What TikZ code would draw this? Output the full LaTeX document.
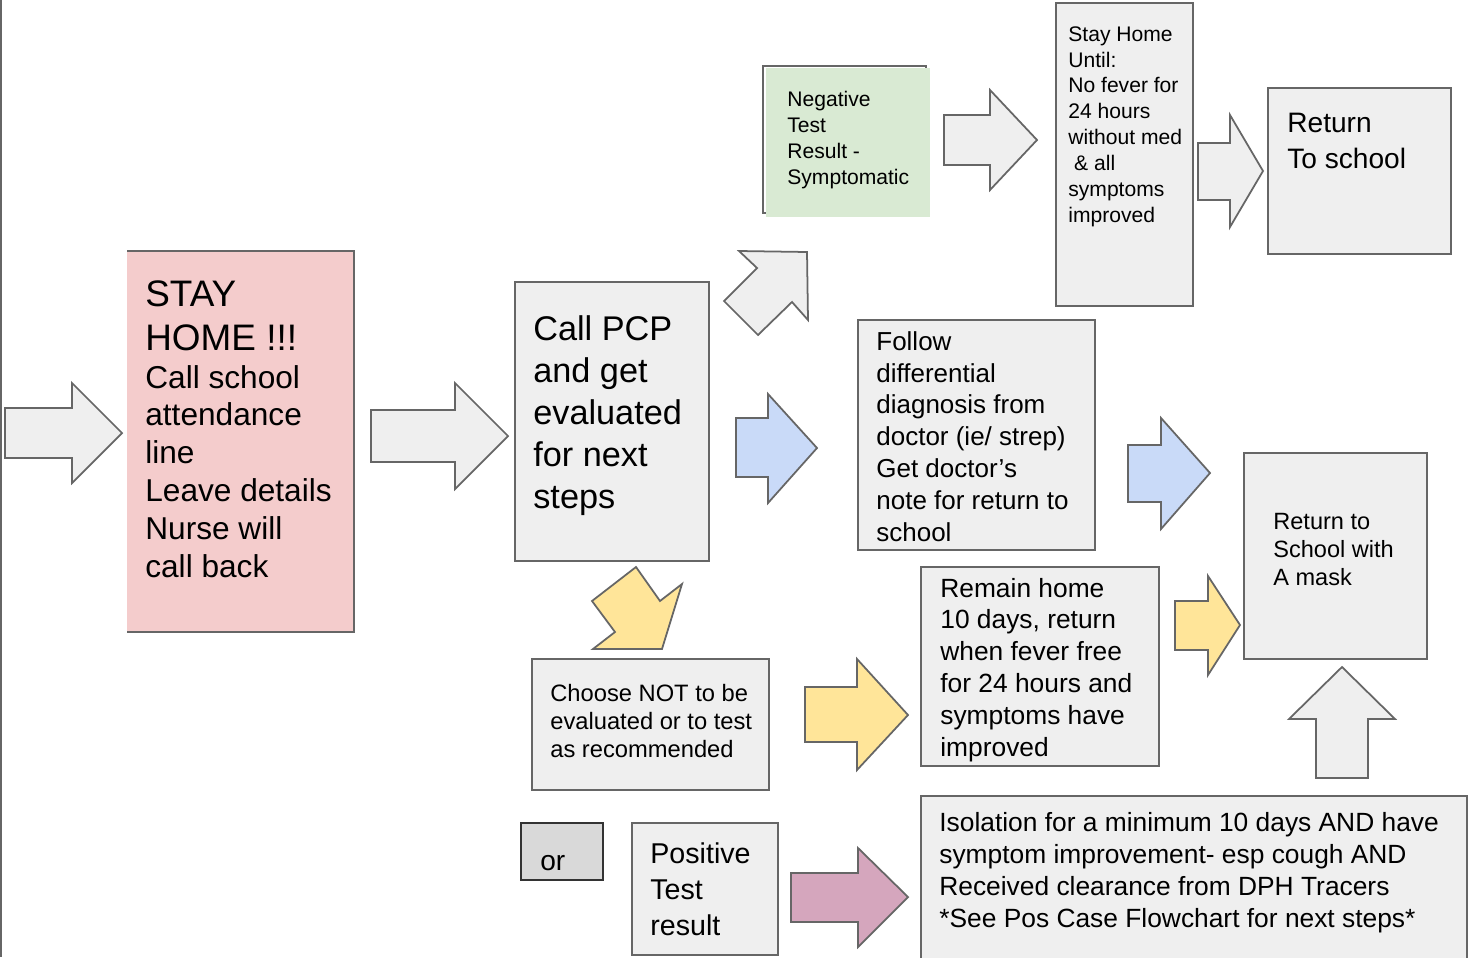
\documentclass[tikz,border=0pt]{standalone}
\usepackage{fontspec}
\setmainfont{Liberation Sans}
\usepackage{tikz}
\usetikzlibrary{positioning}
\definecolor{boxgray}{HTML}{EFEFEF}
\definecolor{edgegray}{HTML}{666666}
\definecolor{stoppink}{HTML}{F4CCCC}
\definecolor{neggreen}{HTML}{D9EAD3}
\definecolor{pcpblue}{HTML}{C9DAF8}
\definecolor{optyellow}{HTML}{FFE599}
\definecolor{posmauve}{HTML}{D5A6BD}
\definecolor{orgray}{HTML}{D9D9D9}
\newcommand{\fsz}[2]{\fontsize{#1}{#2}\selectfont}
\tikzset{
  panel/.style={draw=edgegray, line width=1pt, fill=boxgray, inner sep=0pt, outer sep=0pt, anchor=north west},
  txt/.style={inner sep=0pt, anchor=base west, align=left}, % base = last line
  blk/.style={draw=edgegray, line width=1pt, line join=miter},
}

\begin{document}
\begin{tikzpicture}[x=0.02cm, y=-0.02cm]
\clip (0,0) rectangle (1470,957);
\fill[white] (0,0) rectangle (1470,957);
\draw[edgegray, line width=1.2pt] (1,0) -- (1,957);

% boxes
\node[panel, draw=none, fill=stoppink, minimum width=4.54cm, minimum height=7.62cm] (stay) at (127,251) {};
\draw[edgegray, line width=0.8pt] (stay.north west) -- (stay.north east) -- (stay.south east) -- (stay.south west);
\node[panel, minimum width=3.88cm, minimum height=5.58cm] (pcp) at (515,282) {};
\node[panel, fill=none, minimum width=3.26cm, minimum height=2.94cm] (negedge) at (763,66) {};
\node[panel, draw=none, fill=neggreen, minimum width=3.28cm, minimum height=2.98cm] (neg) at (766,68) {};
\node[panel, minimum width=2.74cm, minimum height=6.06cm] (until) at (1056,3) {};
\node[panel, minimum width=3.66cm, minimum height=3.32cm] (back) at (1268,88) {};
\node[panel, minimum width=4.74cm, minimum height=4.60cm] (follow) at (858,320) {};
\node[panel, minimum width=3.66cm, minimum height=4.12cm] (mask) at (1244,453) {};
\node[panel, minimum width=4.74cm, minimum height=2.62cm] (choose) at (532,659) {};
\node[panel, minimum width=4.76cm, minimum height=3.98cm] (remain) at (921,567) {};
\node[panel, draw=black!80, fill=orgray, minimum width=1.64cm, minimum height=1.14cm] (or) at (521,823) {};
\node[panel, minimum width=2.92cm, minimum height=2.64cm] (pos) at (632,823) {};
\node[panel, minimum width=10.92cm, minimum height=3.50cm] (iso) at (921,796) {};

% block arrows
\draw[blk, fill=boxgray] (5,408) -- (72,408) -- (72,383) -- (122,433) -- (72,483) -- (72,458) -- (5,458) -- cycle;
\draw[blk, fill=boxgray] (371,410) -- (455,410) -- (455,383) -- (508,436) -- (455,489) -- (455,462) -- (371,462) -- cycle;
\draw[blk, fill=boxgray] (739,251) -- (807,252) -- (808,320) -- (792,302) -- (758,335) -- (724,301) -- (757,268) -- cycle;
\draw[blk, fill=pcpblue] (736,418) -- (768,418) -- (768,394) -- (817,448) -- (768,503) -- (768,477) -- (736,477) -- cycle;
\draw[blk, fill=boxgray] (944,115) -- (990,115) -- (990,90) -- (1037,140) -- (990,190) -- (990,165) -- (944,165) -- cycle;
\draw[blk, fill=boxgray] (1198,143) -- (1230,143) -- (1230,115) -- (1263,171) -- (1230,227) -- (1230,200) -- (1198,200) -- cycle;
\draw[blk, fill=pcpblue] (1128,445) -- (1161,445) -- (1161,418) -- (1210,473) -- (1161,529) -- (1161,502) -- (1128,502) -- cycle;
\draw[blk, fill=optyellow] (636,567) -- (660,601) -- (682,584) -- (662,649) -- (593,649) -- (615,632) -- (592,601) -- cycle;
\draw[blk, fill=optyellow] (805,687) -- (857,687) -- (857,659) -- (908,715) -- (857,770) -- (857,742) -- (805,742) -- cycle;
\draw[blk, fill=optyellow] (1175,601) -- (1208,601) -- (1208,576) -- (1240,625) -- (1208,675) -- (1208,650) -- (1175,650) -- cycle;
\draw[blk, fill=boxgray] (1342,667) -- (1395,719) -- (1368,719) -- (1368,778) -- (1316,778) -- (1316,719) -- (1289,719) -- cycle;
\draw[blk, fill=posmauve] (791,873) -- (858,873) -- (858,848) -- (908,897) -- (858,947) -- (858,922) -- (791,922) -- cycle;

% texts, placed at the baseline of their last line
\node[txt, font=\fsz{18}{21.5}] (stayT) at (145,577) {{\fsz{21}{25}STAY}\\[3.5pt]{\fsz{21}{25}HOME !!!}\\Call school\\attendance\\line\\Leave details\\Nurse will\\call back};
\node[txt, font=\fsz{19.5}{23.8}] (pcpT) at (533,508) {Call PCP\\and get\\evaluated\\for next\\steps};
\node[txt, font=\fsz{12}{14.7}] (negT) at (787,184) {Negative\\Test\\Result -\\Symptomatic};
\node[txt, font=\fsz{12}{14.7}] (untilT) at (1068,222) {Stay Home\\Until:\\No fever for\\24 hours\\without med\\\ \& all\\symptoms\\improved};
\node[txt, font=\fsz{16}{20.4}] (backT) at (1287,168) {Return\\To school};
\node[txt, font=\fsz{14.8}{18.1}] (followT) at (876,541) {Follow\\differential\\diagnosis from\\doctor (ie/ strep)\\Get doctor’s\\note for return to\\school};
\node[txt, font=\fsz{13.4}{15.9}] (maskT) at (1273,585) {Return to\\School with\\A mask};
\node[txt, font=\fsz{13.5}{15.9}] (chooseT) at (550,757) {Choose NOT to be\\evaluated or to test\\as recommended};
\node[txt, font=\fsz{15}{18.1}] (remainT) at (940,756) {Remain home\\10 days, return\\when fever free\\for 24 hours and\\symptoms have\\improved};
\node[txt, font=\fsz{16}{19}] (orT) at (540,870) {or};
\node[txt, font=\fsz{16.3}{20.4}] (posT) at (650,935) {Positive\\Test\\result};
\node[txt, font=\fsz{15}{18.1}] (isoT) at (939,927) {Isolation for a minimum 10 days AND have\\symptom improvement- esp cough AND\\Received clearance from DPH Tracers\\*See Pos Case Flowchart for next steps*};
\end{tikzpicture}
\end{document}
